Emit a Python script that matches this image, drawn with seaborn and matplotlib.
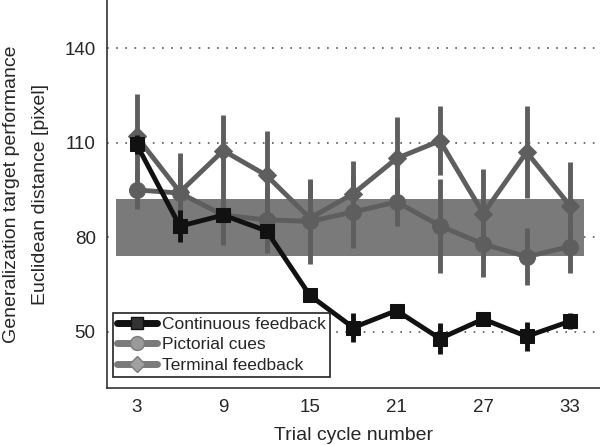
import matplotlib
matplotlib.use("Agg")
import matplotlib.pyplot as plt
from matplotlib.lines import Line2D
import seaborn as sns
import pandas as pd
import numpy as np

# ---- data ----
cycles = [3, 6, 9, 12, 15, 18, 21, 24, 27, 30, 33]
continuous = [109.5, 83.5, 87.0, 82.0, 61.5, 51.3, 56.7, 47.8, 54.0, 48.5, 53.3]
continuous_err = [3.0, 5.0, 2.0, 2.0, 2.0, 4.6, 2.0, 5.0, 2.0, 4.5, 2.5]
pictorial = [95.0, 94.0, 87.0, 85.5, 85.0, 88.0, 91.2, 83.6, 77.8, 73.8, 77.0]
pictorial_err = [6.0, 8.0, 9.5, 10.5, 13.5, 11.5, 7.5, 15.0, 10.4, 9.0, 8.5]
terminal = [112.0, 94.3, 107.5, 99.6, 86.0, 93.8, 105.0, 110.6, 87.5, 107.0, 90.0]
terminal_err = [13.5, 12.5, 11.4, 14.2, 12.0, 10.5, 13.0, 11.0, 14.2, 14.5, 14.0]
band_x = [1.6, 34.0]
band_low, band_high = 74.0, 92.0
series_names = ["Continuous feedback", "Pictorial cues", "Terminal feedback"]
yticks = [50, 80, 110, 140]
xticks = [3, 9, 15, 21, 27, 33]

sns.set_style("white")
plt.rcParams["font.family"] = ["Liberation Sans", "DejaVu Sans"]

df = pd.DataFrame({
    "cycle": cycles * 3,
    "value": continuous + pictorial + terminal,
    "err": continuous_err + pictorial_err + terminal_err,
    "series": sum([[n] * len(cycles) for n in series_names], []),
})

fig = plt.figure(figsize=(6.0, 4.45), dpi=100)
ax = fig.add_axes([0.178, 0.128, 0.822, 0.872])

gray = "#5e5e5e"
colors = {"Continuous feedback": "#111111", "Pictorial cues": gray, "Terminal feedback": gray}
markers = {"Continuous feedback": "s", "Pictorial cues": "o", "Terminal feedback": "D"}
msizes = {"Continuous feedback": 10, "Pictorial cues": 11.5, "Terminal feedback": 9.5}

ax.fill_between(band_x, band_low, band_high, color="#7a7a7a", linewidth=0, zorder=1)

for y in yticks:
    ax.axhline(y, color="#555555", linestyle=(0, (1, 4.5)), linewidth=1.2, zorder=0.5)

order = ["Terminal feedback", "Pictorial cues", "Continuous feedback"]
for i, name in enumerate(order):
    sub = df[df["series"] == name]
    z = 2 + i
    ax.errorbar(sub["cycle"], sub["value"], yerr=sub["err"], fmt="none",
                ecolor=colors[name], elinewidth=3.5, capsize=0, zorder=z)
    sns.lineplot(data=sub, x="cycle", y="value", ax=ax, color=colors[name],
                 marker=markers[name], markersize=msizes[name],
                 markeredgecolor=colors[name], linewidth=3.5,
                 legend=False, zorder=z + 0.5)

ax.set_xlim(0.94, 35.08)
ax.set_ylim(32.1, 155.3)
ax.set_xticks(xticks)
ax.set_yticks(yticks)
ax.tick_params(axis="both", direction="in", length=4, width=1, labelsize=13.5,
               color="#333333", pad=8)
for s in ["top", "right"]:
    ax.spines[s].set_visible(False)
for s in ["left", "bottom"]:
    ax.spines[s].set_color("#333333")
    ax.spines[s].set_linewidth(1.2)

ax.set_xlabel("Trial cycle number", fontsize=14, labelpad=8)
ax.set_ylabel("Generalization target performance\nEuclidean distance [pixel]",
              fontsize=14, linespacing=1.95, labelpad=11)

handles = [
    Line2D([], [], color="#111111", linewidth=5, marker="s", markersize=9,
           markerfacecolor="#333333", markeredgecolor="#111111"),
    Line2D([], [], color="#7a7a7a", linewidth=5, marker="o", markersize=10,
           markerfacecolor="#9a9a9a", markeredgecolor="#7a7a7a"),
    Line2D([], [], color="#7a7a7a", linewidth=5, marker="D", markersize=8,
           markerfacecolor="#a0a0a0", markeredgecolor="#7a7a7a"),
]
leg = ax.legend(handles, series_names, loc="lower left",
                bbox_to_anchor=(0.012, 0.028), borderaxespad=0, fontsize=12.5,
                frameon=True, fancybox=False, edgecolor="#222222",
                handlelength=2.3, handletextpad=0.3, labelspacing=0.3,
                borderpad=0.25)
leg.get_frame().set_linewidth(1.2)
leg.get_frame().set_alpha(1)
leg.set_zorder(10)

fig.savefig("out.png", dpi=100)
